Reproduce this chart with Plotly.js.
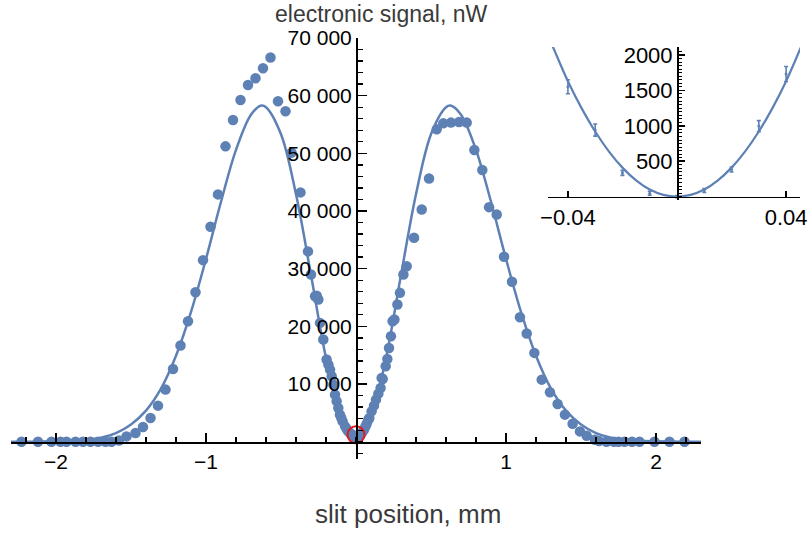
<!DOCTYPE html>
<html>
<head>
<meta charset="utf-8">
<script src="https://cdn.plot.ly/plotly-3.0.1.min.js"></script>
<style>html,body{margin:0;padding:0;background:#fff;}#chart{width:809px;height:533px;}</style>
</head>
<body>
<div id="chart"></div>
<script>
// ---- main data (slit position, mm ; electronic signal, nW) ----
const dataX = [-2.23,-2.12,-2.03,-1.97,-1.93,-1.87,-1.82,-1.77,-1.72,-1.67,-1.63,-1.58,-1.53,-1.47,-1.42,-1.37,-1.32,-1.27,-1.22,-1.17,-1.12,-1.07,-1.02,-0.97,-0.92,-0.87,-0.82,-0.77,-0.72,-0.67,-0.62,-0.57,-0.52,-0.47,-0.43,-0.37,-0.32,-0.30,-0.273,-0.262,-0.251,-0.24,-0.218,-0.196,-0.184,-0.173,-0.162,-0.151,-0.14,-0.129,-0.118,-0.107,-0.098,-0.089,-0.073,-0.062,-0.051,-0.040,-0.029,-0.018,0,
  0.018,0.031,0.042,0.053,0.062,0.071,0.082,0.089,0.104,0.12,0.133,0.149,0.164,0.171,0.178,0.198,0.209,0.22,0.233,0.244,0.256,0.276,0.293,0.316,0.338,0.387,0.438,0.487,0.538,0.582,0.633,0.687,0.738,0.789,0.842,0.887,0.938,0.987,1.04,1.093,1.138,1.189,1.238,1.293,1.344,1.393,1.444,1.493,1.538,1.593,1.62,1.67,1.72,1.75,1.79,1.84,1.89,1.99,2.09,2.19];
const dataY = [0,0,0,0,0,0,0,0,0,0,0,200,920,1500,2550,4110,6250,9030,12620,16670,20890,25920,31480,37270,42880,51210,55780,59250,61860,63020,64750,66610,59020,57290,50120,43230,33000,28990,25230,25300,24650,20600,17710,14240,13370,12500,11340,9900,8160,7000,5850,4690,4100,3520,2660,2200,1790,1500,1220,1100,920,
  1150,1220,1650,2080,2600,3120,3820,4110,5260,6250,7290,8330,9320,11060,10880,13070,14350,16260,18280,20890,21180,23780,25810,28990,30430,35360,40270,45650,54160,55200,55330,55430,55330,50570,47100,40670,39410,32060,27720,21580,18750,15400,10760,8560,6540,4690,3120,1790,1040,350,100,0,0,0,0,0,0,0,0,0];

// ---- fitted curve ----
const fitX = [-2.3,-2.2,-2.1,-2.0,-1.9,-1.8,-1.7,-1.6,-1.5,-1.4,-1.3,-1.2,-1.1,-1.0,-0.9,-0.8,-0.7,-0.63,-0.6,-0.5,-0.4,-0.3,-0.2,-0.1,-0.05,0,0.05,0.1,0.2,0.3,0.4,0.5,0.6,0.63,0.7,0.8,0.9,1.0,1.1,1.2,1.3,1.4,1.5,1.6,1.7,1.8,1.9,2.0,2.1,2.2,2.3];
const fitY = [0,10,20,60,150,340,700,1500,3000,5400,9200,14900,22500,31700,41600,50600,56700,58300,58000,53300,42900,28900,14500,3900,1000,0,1000,3900,14500,28900,42900,53300,58000,58300,56700,50600,41600,31700,22500,14900,9200,5400,3000,1500,700,340,150,60,20,10,0];

// ---- inset ----
const insetX = [-0.04,-0.03,-0.02,-0.01,0,0.01,0.02,0.03,0.04];
const insetY = [1552,940,336,49,0,87,384,996,1731];
const insetErr = [99,85,35,28,15,28,35,78,106];
const insetFitX = [-0.047,-0.045,-0.04,-0.035,-0.03,-0.025,-0.02,-0.015,-0.01,-0.005,0,0.005,0.01,0.015,0.02,0.025,0.03,0.035,0.04,0.045,0.047];
const insetFitY = [2250,2070,1630,1250,920,640,410,230,100,25,0,25,100,230,410,640,920,1250,1630,2070,2250];

// ---- tick labels ----
const yTickVals = [10000,20000,30000,40000,50000,60000,70000];
const yTickText = ['10 000','20 000','30 000','40 000','50 000','60 000','70 000'];
const xTickVals = [-2,-1,1,2];
const xTickText = ['\u22122','\u22121','1','2'];
const insetYTickVals = [500,1000,1500,2000];
const insetYTickText = ['500','1000','1500','2000'];
const insetXTickVals = [-0.04,0.04];
const insetXTickText = ['\u22120.04','0.04'];
const marked = {x:[0], y:[1200]};

const blue = '#5E81B5';
const W = 809, H = 533;
const px = v => v / W, py = v => (H - v) / H;

const traces = [
  {x: fitX, y: fitY, type:'scatter', mode:'lines', line:{color:blue, width:2.5, shape:'spline', smoothing:1}, hoverinfo:'skip'},
  {x: dataX, y: dataY, type:'scatter', mode:'markers', marker:{color:blue, size:10.5}, cliponaxis:false},
  {x: marked.x, y: marked.y, type:'scatter', mode:'markers', marker:{symbol:'circle-open', size:17, color:'#E3191D', line:{width:2, color:'#E3191D'}}, cliponaxis:false},
  {x: insetFitX, y: insetFitY, xaxis:'x2', yaxis:'y2', type:'scatter', mode:'lines', line:{color:blue, width:2.2, shape:'spline', smoothing:1}},
  {x: insetX, y: insetY, xaxis:'x2', yaxis:'y2', type:'scatter', mode:'markers', marker:{color:blue, size:3},
   error_y:{type:'data', array:insetErr, visible:true, color:blue, thickness:1.6, width:2}, cliponaxis:false}
];

const tickFont = {family:'Liberation Sans, Arial, sans-serif', size:21, color:'#000'};
const insetFont = {family:'Liberation Sans, Arial, sans-serif', size:22, color:'#000'};

const layout = {
  width: W, height: H,
  margin:{l:0, r:0, t:0, b:0},
  paper_bgcolor:'#fff', plot_bgcolor:'rgba(0,0,0,0)',
  showlegend:false,
  xaxis:{
    domain:[px(11), px(701)], range:[-2.3, 2.3], anchor:'free', position:py(442),
    showgrid:false, zeroline:false, showline:true, linecolor:'#000', linewidth:1.6,
    tickmode:'array', tickvals:xTickVals, ticktext:xTickText,
    ticks:'inside', ticklen:9, tickwidth:1.6, tickcolor:'#000', tickfont:tickFont,
    minor:{tickmode:'linear', tick0:0, dtick:0.2, ticks:'inside', ticklen:5, tickwidth:1.3, tickcolor:'#000', showgrid:false}
  },
  yaxis:{
    domain:[py(459), py(38)], range:[-3000, 70000], anchor:'free', position:px(356),
    showgrid:false, zeroline:false, showline:true, linecolor:'#000', linewidth:1.6,
    tickmode:'array', tickvals:yTickVals, ticktext:yTickText,
    ticks:'inside', ticklen:9, tickwidth:1.6, tickcolor:'#000', tickfont:tickFont,
    minor:{tickmode:'linear', tick0:0, dtick:2000, ticks:'inside', ticklen:5, tickwidth:1.3, tickcolor:'#000', showgrid:false}
  },
  xaxis2:{
    domain:[px(548), px(800)], range:[-0.0473, 0.0451], anchor:'free', position:py(196.5),
    showgrid:false, zeroline:false, showline:true, linecolor:'#000', linewidth:1.6,
    tickmode:'array', tickvals:insetXTickVals, ticktext:insetXTickText,
    ticks:'inside', ticklen:6, tickwidth:1.6, tickcolor:'#000', tickfont:insetFont
  },
  yaxis2:{
    domain:[py(199.5), py(47)], range:[-40, 2113], anchor:'free', position:px(677),
    showgrid:false, zeroline:false, showline:true, linecolor:'#000', linewidth:1.6,
    tickmode:'array', tickvals:insetYTickVals, ticktext:insetYTickText,
    ticks:'inside', ticklen:6, tickwidth:1.6, tickcolor:'#000', tickfont:insetFont,
    minor:{tickmode:'linear', tick0:0, dtick:50, ticks:'inside', ticklen:3, tickwidth:1, tickcolor:'#000', showgrid:false}
  },
  annotations:[
    {text:'electronic signal, nW', xref:'paper', yref:'paper', x:px(381), y:1, xanchor:'center', yanchor:'top', borderpad:0, showarrow:false,
     font:{family:'Liberation Sans, Arial, sans-serif', size:23, color:'#3a3a3a'}},
    {text:'slit position, mm', xref:'paper', yref:'paper', x:px(408), y:py(514), xanchor:'center', yanchor:'middle', showarrow:false,
     font:{family:'Liberation Sans, Arial, sans-serif', size:26, color:'#3a3a3a'}}
  ]
};

Plotly.newPlot('chart', traces, layout, {displayModeBar:false, staticPlot:true});
</script>
</body>
</html>
